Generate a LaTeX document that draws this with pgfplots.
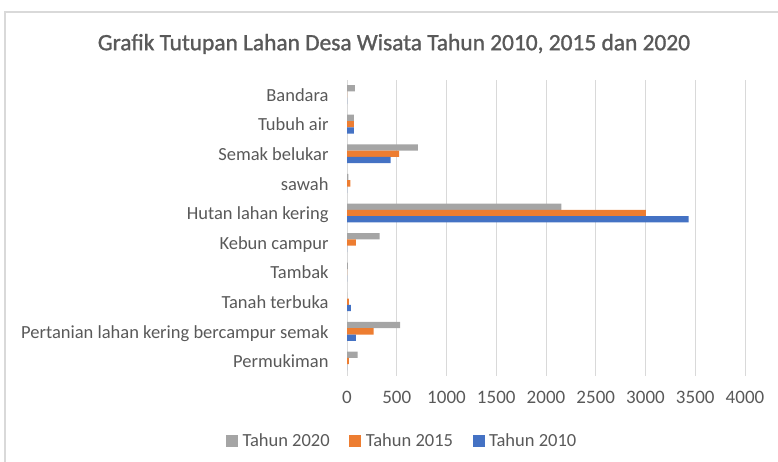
\documentclass[border=0pt]{standalone}
\usepackage{fontspec}
\setmainfont{Carlito}
\newfontfamily\titlefont[FakeBold=1.2]{Carlito}
\usepackage{pgfplots}
\pgfplotsset{compat=1.18}
\definecolor{c2010}{HTML}{4472C4}
\definecolor{c2015}{HTML}{ED7D31}
\definecolor{c2020}{HTML}{A5A5A5}
\definecolor{txt}{HTML}{595959}
\definecolor{grd}{HTML}{D9D9D9}
\begin{document}
\begin{tikzpicture}[x=1pt,y=1pt]
\useasboundingbox (0,0) rectangle (778,462);
\draw[grd, line width=1.2pt] (5,0) -- (5,450) -- (778,450);
\node[text=txt, font=\titlefont\fontsize{23.4}{27}\selectfont] at (394,418) {Grafik Tutupan Lahan Desa Wisata Tahun 2010, 2015 dan 2020};
\begin{axis}[at={(347pt,86.2pt)}, anchor=south west, scale only axis,
 width=398pt, height=296pt,
 xbar, bar width=6.3pt,
 xmin=0, xmax=4000, ymin=-0.5, ymax=9.5,
 ytick={0,...,9},
 yticklabels={Permukiman, Pertanian lahan kering bercampur semak, Tanah terbuka, Tambak, Kebun campur, Hutan lahan kering, sawah, Semak belukar, Tubuh air, Bandara},
 xtick={0,500,...,4000},
 xmajorgrids, major grid style={grd, line width=1pt},
 axis line style={draw=none}, major tick style={draw=none}, minor tick style={draw=none},
 ticklabel style={text=txt},
 xticklabel style={font=\fontsize{19}{22}\selectfont, anchor=center, yshift=-22pt},
 yticklabel style={font=\fontsize{18.5}{22}\selectfont, anchor=base east, xshift=-14pt, yshift=-6.7pt, inner sep=0pt},
 /pgf/number format/assume math mode=true, /pgf/number format/1000 sep={},
 legend columns=3,
 legend style={at={(0.138,-0.22)}, anchor=center, draw=none, fill=none,
   font=\fontsize{18.5}{22}\selectfont, text=txt,
   nodes={inner sep=1.5pt},
   /tikz/every even column/.append style={column sep=18pt}},
 legend image code/.code={\fill[#1] (0pt,-6pt) rectangle (12pt,6pt); \path (15pt,0pt);},
]
\addplot[fill=c2020, draw=none, bar shift=6.3pt] coordinates {(107,0) (535,1) (0,2) (10,3) (328,4) (2155,5) (15,6) (713,7) (70,8) (80,9)};
\addlegendentry{Tahun 2020}
\addplot[fill=c2015, draw=none, bar shift=0pt] coordinates {(20,0) (268,1) (20,2) (0,3) (90,4) (3003,5) (33,6) (525,7) (70,8) (0,9)};
\addlegendentry{Tahun 2015}
\addplot[fill=c2010, draw=none, bar shift=-6.3pt] coordinates {(0,0) (90,1) (40,2) (0,3) (0,4) (3434,5) (0,6) (439,7) (70,8) (0,9)};
\addlegendentry{Tahun 2010}
\end{axis}
\end{tikzpicture}
\end{document}
